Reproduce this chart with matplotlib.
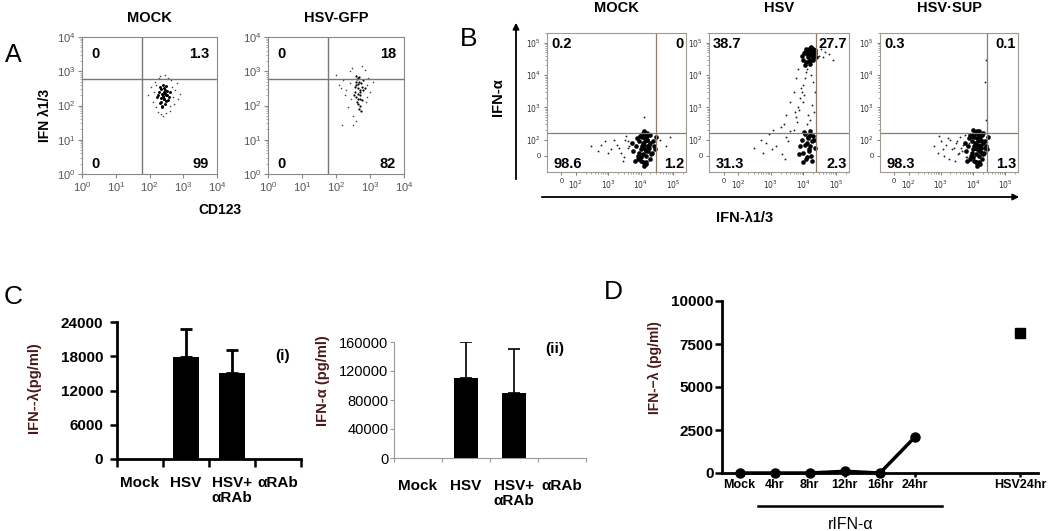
import numpy as np
import matplotlib
matplotlib.use("Agg")
import matplotlib.pyplot as plt
from matplotlib.ticker import NullFormatter, SymmetricalLogLocator, LogLocator
import matplotlib.transforms as mtransforms

plt.rcParams['font.family'] = ['Liberation Sans', 'DejaVu Sans']

# ---------------- data ----------------
# panel A: flow dots, stored as log10 of fluorescence
a_titles = ["MOCK", "HSV-GFP"]
a_quadrants = [["0", "1.3", "0", "99"], ["0", "18", "0", "82"]]
a_gate = (60, 600)
a_mock_core_x = [2.22, 2.28, 2.33, 2.38, 2.42, 2.46, 2.50, 2.55, 2.60, 2.30, 2.36, 2.40, 2.44, 2.48, 2.52,
                 2.35, 2.41, 2.45, 2.39, 2.43, 2.47, 2.26, 2.58, 2.34, 2.49, 2.37, 2.44, 2.53, 2.31, 2.40]
a_mock_core_y = [2.25, 2.40, 2.10, 2.35, 2.20, 2.45, 2.30, 2.15, 2.38, 2.55, 2.00, 2.28, 2.50, 2.12, 2.42,
                 2.22, 2.33, 2.05, 2.60, 2.18, 2.36, 2.30, 2.26, 2.47, 2.58, 1.95, 2.40, 2.30, 2.08, 2.25]
a_mock_halo_x = [1.95, 2.05, 2.10, 2.15, 2.20, 2.70, 2.75, 2.80, 2.85, 2.25, 2.65, 2.30, 2.60, 2.45, 2.35,
                 2.55, 2.12, 2.72, 2.40, 2.50, 2.18, 2.68, 2.90, 2.28, 2.62]
a_mock_halo_y = [2.30, 2.55, 2.10, 2.70, 1.95, 2.25, 2.45, 2.65, 2.20, 1.80, 2.75, 2.85, 1.85, 2.90, 1.75,
                 2.80, 2.40, 2.05, 1.70, 1.78, 2.60, 2.55, 2.35, 2.80, 2.00]
a_hsv_core_x = [2.55, 2.60, 2.65, 2.70, 2.75, 2.80, 2.62, 2.68, 2.72, 2.58, 2.66, 2.74, 2.64, 2.70, 2.60,
                2.78, 2.68, 2.56, 2.72, 2.66, 2.62, 2.76, 2.70, 2.64, 2.84, 2.52, 2.68, 2.74, 2.60, 2.66]
a_hsv_core_y = [2.40, 2.60, 2.80, 2.30, 2.55, 2.45, 2.10, 2.70, 2.20, 2.85, 2.35, 2.65, 2.50, 2.00, 2.25,
                2.75, 1.90, 2.55, 2.45, 2.62, 2.78, 2.15, 2.38, 2.05, 2.50, 2.30, 2.82, 1.85, 2.68, 2.20]
a_hsv_halo_x = [2.00, 2.10, 2.20, 2.30, 2.40, 2.45, 2.50, 2.90, 2.95, 3.00, 3.10, 2.35, 2.25, 2.85, 2.88,
                2.42, 2.15, 2.48, 2.92, 2.58, 2.75, 2.18, 2.50]
a_hsv_halo_y = [2.90, 2.60, 2.75, 2.45, 3.00, 2.20, 1.70, 2.60, 2.80, 2.40, 2.70, 1.95, 2.30, 3.05, 2.10,
                2.65, 2.50, 3.10, 2.25, 1.55, 3.15, 1.43, 1.43]

# panel B: flow dots (raw values, symlog axes)
b_titles = ["MOCK", "HSV", "HSV\u00b7SUP"]
b_quadrants = [["0.2", "0", "98.6", "1.2"], ["38.7", "27.7", "31.3", "2.3"], ["0.3", "0.1", "98.3", "1.3"]]
b_gate_x = [30000, 25000, 28000]
b_gate_y = 160
b_mock_core_x = [6000, 7000, 8000, 9000, 10000, 11000, 12000, 13000, 14000, 15000, 16000, 18000, 20000, 22000, 25000,
                 7500, 8500, 9500, 10500, 11500, 12500, 13500, 14500, 15500, 17000, 19000, 21000, 24000,
                 9000, 10000, 11000, 12000, 13000, 14000, 15000, 16000, 17000, 18000, 12000, 14000, 16000,
                 5500, 6500, 27000, 30000, 11000, 13000, 15000, 19000]
b_mock_core_y = [30, 60, -20, 90, 40, 120, 10, 70, 150, -40, 100, 50, 80, 20, 60,
                 110, 0, 130, -30, 80, 170, 40, -50, 100, 60, 140, 10, 90,
                 20, -10, 150, 50, 190, 90, 0, 130, 30, 70, -40, 110, 160,
                 80, -30, 40, 120, 60, -60, 30, -20]
b_mock_sparse_x = [300, 500, 800, 1200, 1800, 2500, 3200, 4000, 5000, 600, 1000, 1500, 2200, 3000, 4500,
                   3500, 2800, 4200, 40000, 60000, 80000, 13000]
b_mock_sparse_y = [60, 30, 90, 40, 70, 20, 100, 50, 80, 70, 20, 100, 50, -10, 60, 130, -30, 90, 100, 60, 120, 500]
b_hsv_core_x = [9000, 10000, 11000, 12000, 13000, 14000, 15000, 16000, 17000, 18000, 19000, 20000, 22000, 24000,
                11000, 13000, 15000, 17000, 19000, 21000, 23000, 12000, 14000, 16000, 18000, 20000, 10500,
                8000, 9000, 10000, 11000, 12000, 13000, 14000, 15000, 16000, 17000, 18000, 20000, 22000,
                9500, 10500, 11500, 12500, 13500, 14500, 15500, 16500, 19000, 21000, 7500]
b_hsv_core_y = [40000, 30000, 50000, 25000, 60000, 35000, 45000, 70000, 30000, 55000, 40000, 65000, 48000, 35000,
                20000, 45000, 28000, 75000, 52000, 38000, 60000, 65000, 58000, 22000, 42000, 30000, 48000,
                60, 100, 20, 150, -20, 80, 120, 40, 180, 0, 90, 130, 50,
                -40, 170, 70, -10, 110, 30, 140, 60, -30, 100, 10]
b_hsv_sparse_x = [25000, 30000, 35000, 40000, 45000, 60000, 80000, 5000, 6000, 7000, 8000, 9000, 10000, 11000, 12000,
                  13000, 15000, 17000, 20000, 22000, 7500, 9500, 12500, 16000, 18000, 21000, 8500, 10500, 14000,
                  300, 500, 700, 900, 1200, 1500, 2000, 2500, 3000, 3500, 4000, 600, 1100, 2200, 2800, 6500, 5500,
                  4000, 3000, 5000, 6000, 7000]
b_hsv_sparse_y = [55000, 40000, 62000, 35000, 50000, 45000, 30000, 200, 500, 1000, 2000, 3000, 5000, 8000, 12000,
                  15000, 20000, 10000, 6000, 3000, 800, 1500, 300, 400, 1200, 700, 4000, 2500, 600,
                  50, 100, 80, 150, 200, 60, 250, 300, 120, 90, 180, 20, 40, 10, -20, 350, 700,
                  1500, 600, 3000, 8000, 15000]
b_sup_core_x = b_mock_core_x + [14000, 16000, 18000, 12500, 17000, 19500, 15000, 13500, 10000, 20000, 23000, 8000]
b_sup_core_y = b_mock_core_y + [150, 130, 100, -40, -50, 20, 180, 110, 200, 160, 50, 140]
b_sup_sparse_x = [600, 800, 1000, 1200, 1500, 1800, 2000, 2500, 3000, 3500, 4000, 4500, 5000, 6000, 7000,
                  900, 1300, 1700, 2300, 2800, 3300, 3800, 4300, 5500, 6500, 7500, 26000, 23000, 25000]
b_sup_sparse_y = [60, 20, 90, 40, 70, -20, 100, 50, 80, 10, 120, 30, 70, -10, 60,
                  130, 0, 110, 40, -30, 90, 20, 50, 140, -5, 80, 30000, 6000, 400]

# panel C
c_groups = ["Mock", "HSV", "HSV+\n\u03b1RAb", "\u03b1RAb"]
c1_mean = [40, 17800, 15000, 40]
c1_err = [0, 4900, 4100, 0]
c2_mean = [600, 110000, 89000, 600]
c2_err = [0, 50000, 62000, 0]

# panel D
d_labels = ["Mock", "4hr", "8hr", "12hr", "16hr", "24hr", "HSV24hr"]
d_pos = [0, 1, 2, 3, 4, 5, 8]
d_rifn = [0, 0, 0, 100, 0, 2100]
d_hsv = 8150

# ---------------- figure ----------------
W, H = 1050, 531
fig = plt.figure(figsize=(10.5, 5.31), dpi=100)


def box(x0, y0, x1, y1):
    return fig.add_axes([x0 / W, 1 - y1 / H, (x1 - x0) / W, (y1 - y0) / H])


def ftext(x, y, s, **kw):
    kw.setdefault('ha', 'center')
    kw.setdefault('va', 'center')
    fig.text(x / W, 1 - y / H, s, **kw)


label_red = '#4a1a1a'

# panel letters
ftext(13, 55, "A", fontsize=18)
ftext(469, 39, "B", fontsize=19)
ftext(13, 297, "C", fontsize=19)
ftext(613, 292, "D", fontsize=19)

# ---- A ----
a_boxes = [(82, 37, 217, 174), (268, 37, 404, 174)]
a_data = [(a_mock_core_x, a_mock_core_y, a_mock_halo_x, a_mock_halo_y),
          (a_hsv_core_x, a_hsv_core_y, a_hsv_halo_x, a_hsv_halo_y)]
for i, (bx, dat) in enumerate(zip(a_boxes, a_data)):
    ax = box(*bx)
    cx, cy, hx, hy = dat
    ax.scatter(10 ** np.array(hx), 10 ** np.array(hy), s=1.3, color='#444444', lw=0)
    ax.scatter(10 ** np.array(cx), 10 ** np.array(cy), s=4.5 if i == 0 else 2.5, color='black', lw=0)
    ax.set_xscale('log')
    ax.set_yscale('log')
    ax.set_xlim(1, 1e4)
    ax.set_ylim(1, 1e4)
    ax.axvline(a_gate[0], color='#777777', lw=1)
    ax.axhline(a_gate[1], color='#777777', lw=1)
    for sp in ax.spines.values():
        sp.set_color('#888888')
        sp.set_linewidth(0.8)
    ax.xaxis.set_major_locator(LogLocator(base=10, numticks=10))
    ax.yaxis.set_major_locator(LogLocator(base=10, numticks=10))
    ax.tick_params(which='both', colors='#888888', labelcolor='#555555', labelsize=8, direction='out')
    ax.tick_params(which='major', length=3, width=0.8, pad=1.5)
    ax.tick_params(which='minor', length=1.5, width=0.5)
    q = a_quadrants[i]
    ax.text(0.07, 0.875, q[0], transform=ax.transAxes, fontsize=10.5, fontweight='bold', va='center')
    ax.text(0.94, 0.875, q[1], transform=ax.transAxes, fontsize=10.5, fontweight='bold', va='center', ha='right')
    ax.text(0.07, 0.075, q[2], transform=ax.transAxes, fontsize=10.5, fontweight='bold', va='center')
    ax.text(0.94, 0.075, q[3], transform=ax.transAxes, fontsize=10.5, fontweight='bold', va='center', ha='right')
    ftext((bx[0] + bx[2]) / 2, 18, a_titles[i], fontsize=10.5, fontweight='bold')
ftext(45, 115, "IFN \u03bb1/3", fontsize=10, fontweight='bold', rotation=90)
ftext(220, 210, "CD123", fontsize=10, fontweight='bold')

# ---- B ----
b_boxes = [(547, 33, 686, 172), (709, 33, 849, 172), (880, 33, 1018, 172)]
b_data = [(b_mock_core_x, b_mock_core_y, b_mock_sparse_x, b_mock_sparse_y),
          (b_hsv_core_x, b_hsv_core_y, b_hsv_sparse_x, b_hsv_sparse_y),
          (b_sup_core_x, b_sup_core_y, b_sup_sparse_x, b_sup_sparse_y)]
gate_col = '#8b7d6b'
for i, (bx, dat) in enumerate(zip(b_boxes, b_data)):
    ax = box(*bx)
    cx, cy, sx, sy = dat
    ax.scatter(sx, sy, s=1.8, color='#222222', lw=0)
    ax.scatter(cx, cy, s=11, color='black', lw=0)
    ax.set_xscale('symlog', linthresh=100, linscale=0.4)
    ax.set_yscale('symlog', linthresh=100, linscale=0.45)
    ax.set_xlim(-100, 2.5e5)
    ax.set_ylim(-100, 2e5)
    ax.axvline(b_gate_x[i], color=gate_col, lw=0.9)
    ax.axhline(b_gate_y, color=gate_col, lw=0.9)
    for sp in ax.spines.values():
        sp.set_color('#a09a90')
        sp.set_linewidth(0.8)
    majors = [0, 1e2, 1e3, 1e4, 1e5]
    labs = ['0', '$10^2$', '$10^3$', '$10^4$', '$10^5$']
    ax.set_xticks(majors)
    ax.set_xticklabels(labs)
    ax.set_yticks(majors)
    ax.set_yticklabels(labs)
    ax.xaxis.set_minor_locator(SymmetricalLogLocator(linthresh=100, base=10, subs=np.arange(2, 10)))
    ax.yaxis.set_minor_locator(SymmetricalLogLocator(linthresh=100, base=10, subs=np.arange(2, 10)))
    ax.xaxis.set_minor_formatter(NullFormatter())
    ax.yaxis.set_minor_formatter(NullFormatter())
    ax.tick_params(which='both', colors='#777777', labelcolor='#333333', labelsize=5.5, direction='out')
    ax.tick_params(which='major', length=2.5, width=0.7, pad=2)
    ax.tick_params(which='minor', length=1.5, width=0.5)
    q = b_quadrants[i]
    ax.text(0.03, 0.92, q[0], transform=ax.transAxes, fontsize=10.5, fontweight='bold', va='center')
    ax.text(0.985, 0.92, q[1], transform=ax.transAxes, fontsize=10.5, fontweight='bold', va='center', ha='right')
    ax.text(0.05, 0.06, q[2], transform=ax.transAxes, fontsize=10.5, fontweight='bold', va='center')
    ax.text(0.985, 0.06, q[3], transform=ax.transAxes, fontsize=10.5, fontweight='bold', va='center', ha='right')
    ftext((bx[0] + bx[2]) / 2, 8, b_titles[i], fontsize=10.5, fontweight='bold')

fig.add_artist(matplotlib.patches.FancyArrowPatch((516 / W, 1 - 182 / H), (516 / W, 1 - 20 / H),
               transform=fig.transFigure, arrowstyle='-|>', mutation_scale=9, lw=1.3, color='black'))
fig.add_artist(matplotlib.patches.FancyArrowPatch((539 / W, 1 - 197 / H), (1022 / W, 1 - 197 / H),
               transform=fig.transFigure, arrowstyle='-|>', mutation_scale=9, lw=1.3, color='black'))
ftext(498, 97, "IFN-\u03b1", fontsize=10.5, fontweight='bold', rotation=90)
ftext(745, 218, "IFN-\u03bb1/3", fontsize=10.5, fontweight='bold')

# ---- C(i) ----
x = np.arange(4)
ax = box(117, 322, 301, 459)
ax.bar(x, c1_mean, width=0.55, color='black')
sel = [k for k in range(4) if c1_err[k] > 0]
ax.errorbar(x[sel], np.array(c1_mean)[sel], yerr=[np.zeros(len(sel)), np.array(c1_err)[sel]],
            fmt='none', ecolor='black', elinewidth=2, capsize=4.5, capthick=2)
ax.set_xlim(-0.5, 3.5)
ax.set_ylim(0, 24000)
ax.set_yticks([0, 6000, 12000, 18000, 24000])
for lab in ax.get_yticklabels():
    lab.set_fontweight('bold')
ax.tick_params(axis='y', labelsize=11, length=5, width=1.8, pad=5)
ax.set_xticks([-0.5, 0.5, 1.5, 2.5, 3.5])
ax.set_xticklabels([])
ax.tick_params(axis='x', which='major', length=6, width=1.8)
ax.set_xticks(x, minor=True)
ax.set_xticklabels(c_groups, minor=True, fontsize=11, fontweight='bold', linespacing=1.15)
ax.tick_params(axis='x', which='minor', length=0, pad=12)
for sp in ['top', 'right']:
    ax.spines[sp].set_visible(False)
for sp in ['left', 'bottom']:
    ax.spines[sp].set_linewidth(2)
ax.text(3.1, 18000, "(i)", fontsize=11, fontweight='bold', ha='center', va='center')
ftext(34, 388, "IFN--\u03bb(pg/ml)", fontsize=10.5, fontweight='bold', rotation=90, color=label_red)

# ---- C(ii) ----
ax = box(394, 342, 586, 458)
ax.bar(x, c2_mean, width=0.52, color='black')
sel = [k for k in range(4) if c2_err[k] > 0]
ax.errorbar(x[sel], np.array(c2_mean)[sel], yerr=[np.zeros(len(sel)), np.array(c2_err)[sel]],
            fmt='none', ecolor='black', elinewidth=1.2, capsize=4, capthick=1.2)
ax.set_xlim(-0.5, 3.5)
ax.set_ylim(0, 160000)
ax.set_yticks([0, 40000, 80000, 120000, 160000])
ax.tick_params(axis='y', labelsize=10.5, length=3, width=0.8, color='#999999', pad=1)
ax.set_xticks([-0.5, 0.5, 1.5, 2.5, 3.5])
ax.set_xticklabels([])
ax.tick_params(axis='x', which='major', length=3, width=0.8, color='#999999')
ax.set_xticks(x, minor=True)
ax.set_xticklabels(c_groups, minor=True, fontsize=11, fontweight='bold', linespacing=1.15)
ax.tick_params(axis='x', which='minor', length=0, pad=15)
for sp in ['top', 'right']:
    ax.spines[sp].set_visible(False)
for sp in ['left', 'bottom']:
    ax.spines[sp].set_linewidth(0.8)
    ax.spines[sp].set_color('#999999')
ax.text(2.85, 150000, "(ii)", fontsize=11, fontweight='bold', ha='center', va='center')
ftext(323, 381, "IFN-\u03b1 (pg/ml)", fontsize=10.5, fontweight='bold', rotation=90, color=label_red)

# ---- D ----
ax = box(722, 301, 1038, 473)
ax.plot(d_pos[:6], d_rifn, '-o', color='black', lw=2.5, ms=6.5, clip_on=False, zorder=3)
ax.plot([d_pos[6]], [d_hsv], 's', color='black', ms=6.5)
ax.set_xlim(-0.5, 8.5)
ax.set_ylim(0, 10000)
ax.set_yticks([0, 2500, 5000, 7500, 10000])
for lab in ax.get_yticklabels():
    lab.set_fontweight('bold')
ax.tick_params(axis='y', labelsize=11, length=5, width=1.8, pad=1)
ax.set_xticks(d_pos)
ax.set_xticklabels(d_labels, fontsize=9, fontweight='bold')
ax.tick_params(axis='x', length=3, width=1.8, pad=1)
for sp in ['top', 'right']:
    ax.spines[sp].set_visible(False)
for sp in ['left', 'bottom']:
    ax.spines[sp].set_linewidth(2)
trans = mtransforms.blended_transform_factory(ax.transData, ax.transAxes)
ax.plot([0.53, 5.77], [-0.19, -0.19], color='black', lw=1.8, transform=trans, clip_on=False)
ax.text(3.15, -0.30, "rIFN-\u03b1", fontsize=11.5, transform=trans, ha='center', va='center')
ftext(655, 368, "IFN-\u2212\u03bb (pg/ml)", fontsize=10, fontweight='bold', rotation=90, color=label_red)

fig.savefig("out.png", dpi=100)
